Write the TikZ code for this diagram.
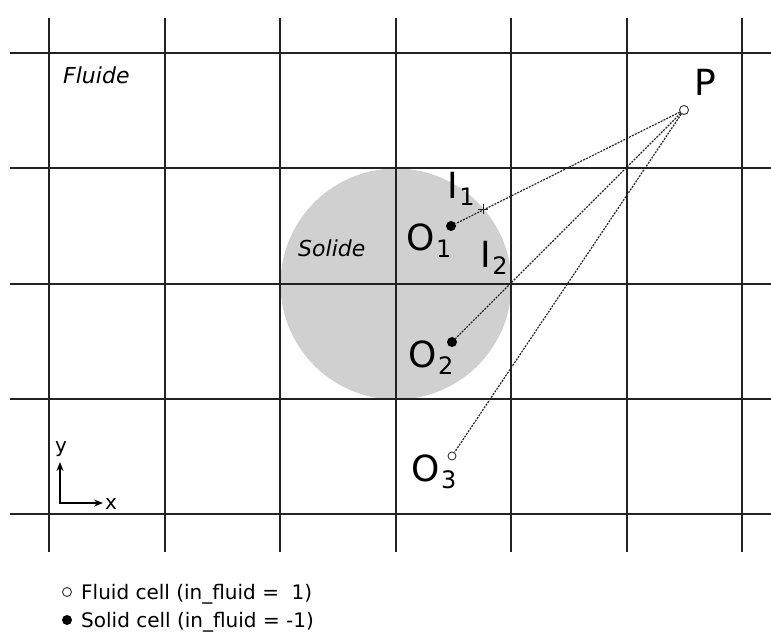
\documentclass[tikz,border=0pt]{standalone}
\usepackage{fontspec}
\setmainfont{DejaVu Sans}
\usetikzlibrary{arrows.meta}
\definecolor{gridc}{RGB}{34,34,34}
\definecolor{solidc}{RGB}{208,208,208}
\newcommand{\lblsub}[2]{#1\kern1.5pt\raisebox{-7pt}{\fontsize{24}{24}\selectfont #2}}
\begin{document}
\begin{tikzpicture}[x=1pt,y=-1pt,
 gridline/.style={draw=gridc,line width=2pt},
 ray/.style={draw=black!85,line width=1.2pt,dash pattern=on 2pt off 1.2pt},
 ptopen/.style={circle,draw=black!80,fill=white,line width=0.9pt,inner sep=0pt,minimum size=9pt},
 ptfull/.style={circle,fill=black,inner sep=0pt,minimum size=10pt},
 biglabel/.style={font=\fontsize{36}{36}\selectfont,inner sep=0pt,anchor=base west},
 region/.style={font=\fontsize{22}{22}\selectfont\itshape,inner sep=0pt,anchor=base west},
 small/.style={font=\fontsize{20}{20}\selectfont,inner sep=0pt},
 axis/.style={line width=1.5pt,{Stealth[length=9pt,width=7pt]}-{Stealth[length=9pt,width=7pt]}}]
\useasboundingbox (0,0) rectangle (771,635);
% solid disc
\fill[solidc] (396,284) circle (115.5);
% grid
\foreach \x in {49,165,280,396,511,627,742} \draw[gridline] (\x,18) -- (\x,552);
\foreach \y in {53,168,284,399,514} \draw[gridline] (10,\y) -- (771,\y);
% region labels
\node[region] (fluide) at (63,83) {Fluide};
\node[region] (solide) at (298,256) {Solide};
% points
\node[ptopen] (P) at (684,110) {};
\node[ptfull] (O1) at (451,226) {};
\node[ptfull] (O2) at (452,342) {};
\node[ptopen,minimum size=8pt] (O3) at (452,456) {};
\coordinate (I1) at (483,209);
% rays
\draw[ray] (P) -- (O1);
\draw[ray] (P) -- (O2);
\draw[ray] (P) -- (O3);
\draw[line width=1pt,black!85] (I1) ++(-5,0) -- ++(10,0) (I1) ++(0,-5) -- ++(0,10);
% labels
\node[biglabel] (Plbl) at (694,95) {P};
\node[biglabel] (O1lbl) at (406,250) {\lblsub{O}{1}};
\node[biglabel] (O2lbl) at (408,367) {\lblsub{O}{2}};
\node[biglabel] (O3lbl) at (411,481) {\lblsub{O}{3}};
\node[biglabel] (I1lbl) at (447,198) {\lblsub{I}{1}};
\node[biglabel] (I2lbl) at (480,267) {\lblsub{I}{2}};
% axes
\coordinate (orig) at (60,503);
\coordinate (ytip) at (60,462);
\coordinate (xtip) at (103,503);
\draw[axis] (ytip) -- (orig) -- (xtip);
\node[small,anchor=base] (ylbl) at (61,452) {y};
\node[small,anchor=base west] (xlbl) at (105,509) {x};
% legend
\node[ptopen] (legopen) at (67,592) {};
\node[ptfull] (legfull) at (67,620) {};
\node[small,anchor=base west] (leg1) at (81,599) {Fluid cell (in\_fluid =\ \ 1)};
\node[small,anchor=base west] (leg2) at (81,627) {Solid cell (in\_fluid = -1)};
\end{tikzpicture}
\end{document}
